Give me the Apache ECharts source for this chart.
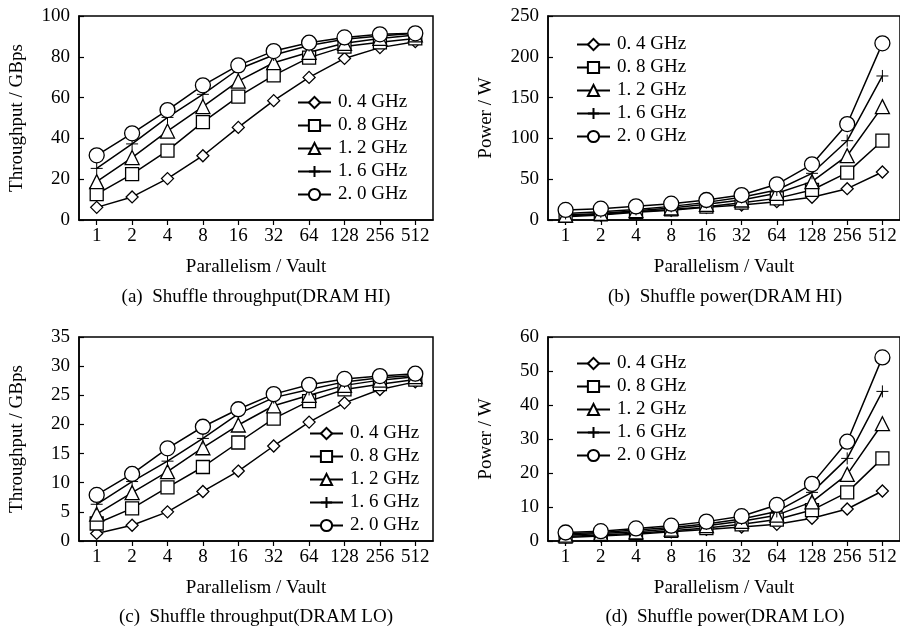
<!DOCTYPE html>
<html><head><meta charset="utf-8">
<script src="https://cdn.jsdelivr.net/npm/echarts@6/dist/echarts.min.js"></script>
<style>html,body{margin:0;padding:0;background:#fff}#c{width:900px;height:631px}</style>
</head><body><div id="c"></div>
<script>
const categories = ['1','2','4','8','16','32','64','128','256','512'];
const seriesNames = ['0. 4 GHz','0. 8 GHz','1. 2 GHz','1. 6 GHz','2. 0 GHz'];

// (a) Shuffle throughput (DRAM HI), GBps
const thrHi_04 = [6.2, 11.3, 20.3, 31.5, 45.4, 58.5, 69.9, 79.2, 84.5, 87.4];
const thrHi_08 = [12.7, 22.5, 34.0, 48.0, 60.5, 70.9, 79.6, 85.0, 87.1, 89.0];
const thrHi_12 = [18.8, 30.6, 43.6, 55.6, 68.1, 77.1, 82.2, 86.6, 89.0, 90.7];
const thrHi_16 = [25.3, 37.3, 50.3, 61.6, 73.9, 80.9, 85.5, 88.6, 90.2, 91.5];
const thrHi_20 = [31.7, 42.5, 53.9, 66.0, 75.8, 82.8, 86.9, 89.5, 91.0, 91.5];

// (b) Shuffle power (DRAM HI), W
const pwrHi_04 = [4.0, 6.0, 9.4, 12.0, 15.5, 18.4, 22.5, 27.8, 38.4, 58.8];
const pwrHi_08 = [5.0, 7.0, 10.0, 13.0, 16.3, 21.2, 26.5, 36.8, 58.0, 97.2];
const pwrHi_12 = [6.0, 8.0, 11.4, 14.7, 19.2, 24.5, 32.7, 47.0, 78.8, 138.9];
const pwrHi_16 = [8.0, 10.0, 13.0, 16.7, 21.6, 27.8, 36.8, 57.2, 97.2, 176.5];
const pwrHi_20 = [12.3, 13.9, 16.7, 20.0, 24.5, 30.6, 43.7, 68.2, 117.6, 216.5];

// (c) Shuffle throughput (DRAM LO), GBps
const thrLo_04 = [1.3, 2.7, 5.0, 8.5, 12.0, 16.3, 20.4, 23.7, 26.0, 27.3];
const thrLo_08 = [3.0, 5.6, 9.2, 12.7, 16.9, 21.0, 24.0, 26.0, 26.9, 27.7];
const thrLo_12 = [4.6, 8.3, 11.9, 16.0, 19.9, 23.2, 25.0, 26.7, 27.6, 28.2];
const thrLo_16 = [6.3, 10.2, 13.7, 17.6, 21.8, 24.6, 26.0, 27.3, 28.0, 28.4];
const thrLo_20 = [7.9, 11.5, 15.9, 19.6, 22.6, 25.2, 26.8, 27.8, 28.3, 28.7];

// (d) Shuffle power (DRAM LO), W
const pwrLo_04 = [1.0, 1.5, 2.0, 2.7, 3.4, 4.1, 4.9, 6.7, 9.4, 14.7];
const pwrLo_08 = [1.3, 1.8, 2.3, 3.0, 3.8, 4.9, 6.3, 9.1, 14.3, 24.3];
const pwrLo_12 = [1.7, 2.2, 2.7, 3.5, 4.5, 5.8, 7.6, 11.5, 19.6, 34.5];
const pwrLo_16 = [2.1, 2.5, 3.2, 4.0, 5.0, 6.5, 8.7, 14.3, 24.3, 44.0];
const pwrLo_20 = [2.5, 2.9, 3.7, 4.5, 5.7, 7.3, 10.6, 16.8, 29.2, 54.0];

const yNames = ['Throughput / GBps','Power / W','Throughput / GBps','Power / W'];
const yMax = [100, 250, 35, 60];
const yInterval = [20, 50, 5, 10];
const captions = ['(a)  Shuffle throughput(DRAM HI)','(b)  Shuffle power(DRAM HI)','(c)  Shuffle throughput(DRAM LO)','(d)  Shuffle power(DRAM LO)'];
const xName = 'Parallelism / Vault';

const panels = [
  [thrHi_04, thrHi_08, thrHi_12, thrHi_16, thrHi_20],
  [pwrHi_04, pwrHi_08, pwrHi_12, pwrHi_16, pwrHi_20],
  [thrLo_04, thrLo_08, thrLo_12, thrLo_16, thrLo_20],
  [pwrLo_04, pwrLo_08, pwrLo_12, pwrLo_16, pwrLo_20]
];

const FONT = 'Liberation Serif';
const FS = 19;
const symbols = ['diamond','rect','triangle','path://M5,0L5,10M0,5L10,5','circle'];
const symSizes = [12, 13, 14, 12, 15];
const symBorder = [1.3, 1.3, 1.3, 1.0, 1.3];

const gridPos = [
  {left: 79, top: 16, width: 354, height: 204},
  {left: 548, top: 16, width: 354, height: 204},
  {left: 79, top: 337, width: 354, height: 204},
  {left: 548, top: 337, width: 354, height: 204}
];
const legendPos = [
  {left: 292, top: 88},
  {left: 571, top: 30},
  {left: 304, top: 419},
  {left: 571, top: 349}
];
const captionPos = [[256, 297], [725, 297], [256, 617], [725, 617]];

const option = {
  animation: false,
  backgroundColor: '#fff',
  textStyle: {fontFamily: FONT, color: '#000'},
  grid: gridPos.map(g => Object.assign({show: true, borderColor: '#000', borderWidth: 1.5, backgroundColor: 'transparent'}, g)),
  xAxis: gridPos.map((g, i) => ({
    type: 'category', gridIndex: i, data: categories, boundaryGap: true,
    name: xName, nameLocation: 'middle', nameGap: 38,
    nameTextStyle: {fontFamily: FONT, fontSize: FS, color: '#000'},
    axisLine: {lineStyle: {color: '#000', width: 1.5}},
    axisTick: {show: true, alignWithLabel: true, length: 5, lineStyle: {color: '#000', width: 1.2}},
    axisLabel: {fontFamily: FONT, fontSize: FS, color: '#000', margin: 7, interval: 0},
    splitLine: {show: false}
  })),
  yAxis: gridPos.map((g, i) => ({
    type: 'value', gridIndex: i, min: 0, max: yMax[i], interval: yInterval[i],
    name: yNames[i], nameLocation: 'middle', nameGap: 52,
    nameTextStyle: {fontFamily: FONT, fontSize: FS, color: '#000'},
    axisLine: {show: true, lineStyle: {color: '#000', width: 1.5}},
    axisTick: {show: true, inside: true, length: 5, lineStyle: {color: '#000', width: 1.2}},
    axisLabel: {fontFamily: FONT, fontSize: FS, color: '#000', margin: 9},
    splitLine: {show: false}
  })),
  legend: legendPos.map((p, i) => ({
    left: p.left, top: p.top, orient: 'vertical',
    itemWidth: 33, itemHeight: 14, itemGap: 4,
    data: seriesNames.map(n => n + '#' + i),
    formatter: n => n.split('#')[0],
    textStyle: {fontFamily: FONT, fontSize: FS, color: '#000', padding: [0, 0, 0, 2]},
    inactiveColor: '#000'
  })),
  graphic: captions.map((t, i) => ({
    type: 'text', x: captionPos[i][0], y: captionPos[i][1],
    style: {text: t, fontFamily: FONT, fontSize: FS, fill: '#000', align: 'center', verticalAlign: 'middle'}
  })),
  series: []
};

panels.forEach((arrs, pi) => {
  arrs.forEach((data, si) => {
    option.series.push({
      type: 'line', name: seriesNames[si] + '#' + pi,
      xAxisIndex: pi, yAxisIndex: pi, data: data,
      symbol: symbols[si], symbolSize: symSizes[si], showAllSymbol: true,
      lineStyle: {color: '#000', width: 1.5},
      itemStyle: {color: '#fff', borderColor: '#000', borderWidth: symBorder[si]},
      emphasis: {disabled: true}
    });
  });
});

const chart = echarts.init(document.getElementById('c'), null, {renderer: 'canvas'});
chart.setOption(option);
</script>
</body></html>
